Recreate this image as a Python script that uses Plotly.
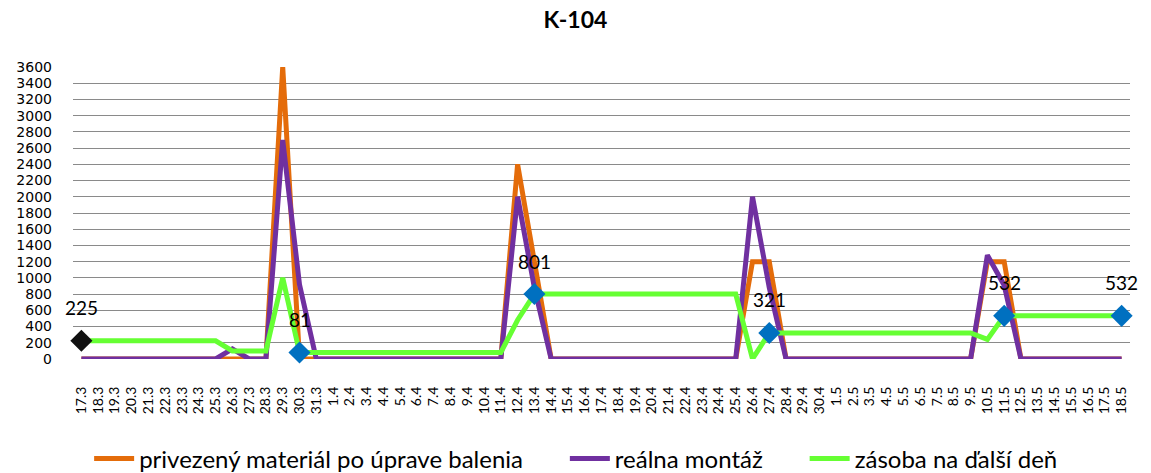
import plotly.graph_objects as go

dates = ["17.3", "18.3", "19.3", "20.3", "21.3", "22.3", "23.3", "24.3", "25.3", "26.3",
         "27.3", "28.3", "29.3", "30.3", "31.3",
         "1.4", "2.4", "3.4", "4.4", "5.4", "6.4", "7.4", "8.4", "9.4", "10.4",
         "11.4", "12.4", "13.4", "14.4", "15.4", "16.4", "17.4", "18.4", "19.4", "20.4",
         "21.4", "22.4", "23.4", "24.4", "25.4", "26.4", "27.4", "28.4", "29.4", "30.4",
         "1.5", "2.5", "3.5", "4.5", "5.5", "6.5", "7.5", "8.5", "9.5", "10.5",
         "11.5", "12.5", "13.5", "14.5", "15.5", "16.5", "17.5", "18.5"]

privezeny = [0, 0, 0, 0, 0, 0, 0, 0, 0, 0,
             0, 0, 3600, 0, 0,
             0, 0, 0, 0, 0, 0, 0, 0, 0, 0,
             0, 2400, 1200, 0, 0, 0, 0, 0, 0, 0,
             0, 0, 0, 0, 0, 1200, 1200, 0, 0, 0,
             0, 0, 0, 0, 0, 0, 0, 0, 0, 1200,
             1200, 0, 0, 0, 0, 0, 0, 0]

montaz = [0, 0, 0, 0, 0, 0, 0, 0, 0, 125,
          0, 0, 2700, 919, 0,
          0, 0, 0, 0, 0, 0, 0, 0, 0, 0,
          0, 2000, 880, 0, 0, 0, 0, 0, 0, 0,
          0, 0, 0, 0, 0, 2000, 880, 0, 0, 0,
          0, 0, 0, 0, 0, 0, 0, 0, 0, 1280,
          909, 0, 0, 0, 0, 0, 0, 0]

zasoba = [225, 225, 225, 225, 225, 225, 225, 225, 225, 100,
          100, 100, 1000, 81, 81,
          81, 81, 81, 81, 81, 81, 81, 81, 81, 81,
          81, 481, 801, 801, 801, 801, 801, 801, 801, 801,
          801, 801, 801, 801, 801, 1, 321, 321, 321, 321,
          321, 321, 321, 321, 321, 321, 321, 321, 321, 241,
          532, 532, 532, 532, 532, 532, 532, 532]

labeled_idx = [0, 13, 27, 41, 55, 62]
marker_colors = ["#111111", "#0070C0", "#0070C0", "#0070C0", "#0070C0", "#0070C0"]

series_names = ["privezený materiál po úprave balenia", "reálna montáž", "zásoba na ďalší deň"]

y_ticks = list(range(0, 3601, 200))

ORANGE = "#E46C0A"
PURPLE = "#7030A0"
GREEN = "#66FF33"
PAD = "\u00a0" * 6

x_idx = list(range(len(dates)))

fig = go.Figure()
fig.add_trace(go.Scatter(x=x_idx, y=privezeny, mode="lines", name=series_names[0] + PAD,
                         line=dict(color=ORANGE, width=5), cliponaxis=False))
fig.add_trace(go.Scatter(x=x_idx, y=montaz, mode="lines", name=series_names[1] + PAD,
                         line=dict(color=PURPLE, width=5), cliponaxis=False))
fig.add_trace(go.Scatter(x=x_idx, y=zasoba, mode="lines", name=series_names[2],
                         line=dict(color=GREEN, width=5), cliponaxis=False))
fig.add_trace(go.Scatter(x=labeled_idx, y=[zasoba[i] for i in labeled_idx],
                         mode="markers", showlegend=False, cliponaxis=False,
                         marker=dict(symbol="diamond", size=17, color=marker_colors, line=dict(width=0))))

for i in labeled_idx:
    fig.add_annotation(x=i, y=zasoba[i], text=str(zasoba[i]), showarrow=False,
                       yshift=33, font=dict(family="Lato", size=19, color="#000000"))

fig.update_layout(
    width=1151, height=473,
    margin=dict(l=73, r=21, t=67, b=114),
    paper_bgcolor="white", plot_bgcolor="white",
    title=dict(text="<b>K-104</b>", x=0.5, xanchor="center", y=1 - 20 / 473, yanchor="middle",
               font=dict(family="Lato", size=23, color="#000000")),
    showlegend=True,
    legend=dict(orientation="h", x=0.476, xanchor="center", xref="paper",
                y=1 - 459 / 473, yanchor="middle", yref="container",
                font=dict(family="Lato", size=24, color="#000000"), itemwidth=40),
    font=dict(family="Lato", color="#000000"),
)
fig.update_xaxes(type="linear", range=[-0.5, len(dates) - 0.5], tickangle=-90,
                 tickmode="array", tickvals=x_idx, ticktext=dates,
                 showgrid=False, zeroline=False, showline=False,
                 ticks="outside", ticklen=21, tickcolor="rgba(0,0,0,0)",
                 tickfont=dict(family="Lato", size=14, color="#000000"),
                 automargin=False, fixedrange=True)
fig.update_yaxes(range=[0, 3600], tickvals=y_ticks, ticktext=[str(v) for v in y_ticks],
                 showgrid=True, gridcolor="#8a8a8a", gridwidth=1.4, zeroline=False,
                 showline=False, ticks="", tickfont=dict(family="DejaVu Sans", size=14, color="#000000"),
                 ticklabelstandoff=20, automargin=False, fixedrange=True)

fig.write_html("out.html")
